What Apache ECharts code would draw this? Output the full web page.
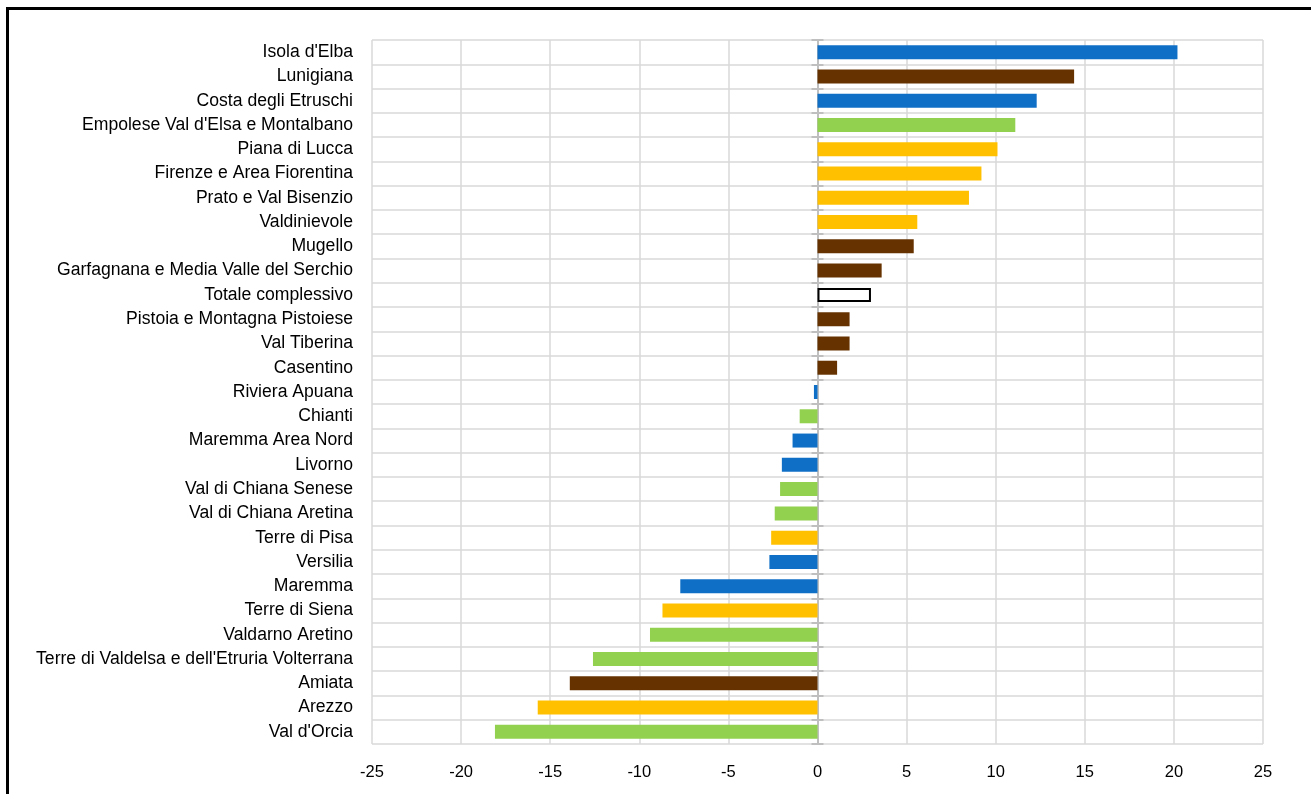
<!DOCTYPE html>
<html>
<head>
<meta charset="utf-8">
<script src="https://cdn.jsdelivr.net/npm/echarts@6/dist/echarts.min.js"></script>
<style>
  html, body { margin: 0; padding: 0; background: #ffffff; }
  #chart { width: 1311px; height: 794px; }
</style>
</head>
<body>
<div id="chart"></div>
<script>
// Tourist areas, top to bottom
const areas = [
  "Isola d'Elba", "Lunigiana", "Costa degli Etruschi", "Empolese Val d'Elsa e Montalbano",
  "Piana di Lucca", "Firenze e Area Fiorentina", "Prato e Val Bisenzio", "Valdinievole",
  "Mugello", "Garfagnana e Media Valle del Serchio", "Totale complessivo",
  "Pistoia e Montagna Pistoiese", "Val Tiberina", "Casentino", "Riviera Apuana",
  "Chianti", "Maremma Area Nord", "Livorno", "Val di Chiana Senese", "Val di Chiana Aretina",
  "Terre di Pisa", "Versilia", "Maremma", "Terre di Siena", "Valdarno Aretino",
  "Terre di Valdelsa e dell'Etruria Volterrana", "Amiata", "Arezzo", "Val d'Orcia"
];

// Percentage change per area
const changes = [
  20.2, 14.4, 12.3, 11.1,
  10.1, 9.2, 8.5, 5.6,
  5.4, 3.6, 3.0,
  1.8, 1.8, 1.1, -0.2,
  -1.0, -1.4, -2.0, -2.1, -2.4,
  -2.6, -2.7, -7.7, -8.7, -9.4,
  -12.6, -13.9, -15.7, -18.1
];

// Type of destination for each area
const kinds = [
  "costa", "montagna", "costa", "campagna",
  "citta", "citta", "citta", "citta",
  "montagna", "montagna", "totale",
  "montagna", "montagna", "montagna", "costa",
  "campagna", "costa", "costa", "campagna", "campagna",
  "citta", "costa", "costa", "citta", "campagna",
  "campagna", "montagna", "citta", "campagna"
];

// Axis range and step
const xMin = -25, xMax = 25, xStep = 5;

const kindStyle = {
  costa:    { color: '#0F6FC6' },
  montagna: { color: '#663300' },
  campagna: { color: '#92D050' },
  citta:    { color: '#FFC000' },
  totale:   { color: '#FFFFFF', borderColor: '#000000', borderWidth: 2 }
};

const FONT = "'Liberation Sans', Arial, sans-serif";

const W = 1311;
const gridLeft = 372, gridRight = 48;
const plotWidth = W - gridLeft - gridRight;
// horizontal pixel of the value 0 inside the plot
const zeroX = gridLeft + (0 - xMin) / (xMax - xMin) * plotWidth;
const tickHalf = 6;

const chart = echarts.init(document.getElementById('chart'), null, { renderer: 'canvas' });

const gridLine = { show: true, interval: 0, lineStyle: { color: '#D9D9D9', width: 1.5 } };
const axisGray = '#BFBFBF';

chart.setOption({
  backgroundColor: '#ffffff',
  animation: false,
  graphic: [{
    type: 'rect',
    shape: { x: 7.5, y: 8.5, width: 1400, height: 900 },
    style: { fill: 'none', stroke: '#000000', lineWidth: 3 },
    silent: true
  }],
  grid: { left: gridLeft, right: gridRight, top: 40, bottom: 50, containLabel: false },
  xAxis: {
    type: 'value',
    min: xMin, max: xMax, interval: xStep,
    axisLine: { show: false },
    axisTick: { show: false },
    splitLine: gridLine,
    axisLabel: {
      color: '#000000', fontFamily: FONT, fontSize: 16.5, margin: 20
    }
  },
  yAxis: [
    {
      // category labels at the left edge, with the row separators
      type: 'category', data: areas, inverse: true,
      position: 'left',
      axisLine: { show: false, onZero: false },
      axisTick: { show: false },
      splitLine: gridLine,
      axisLabel: {
        interval: 0,
        color: '#000000', fontFamily: FONT, fontSize: 17.6, margin: 19
      }
    },
    {
      // zero line
      type: 'category', data: areas, inverse: true,
      position: 'left',
      axisLine: { show: true, onZero: true, lineStyle: { color: axisGray, width: 2 } },
      axisTick: { show: false },
      axisLabel: { show: false },
      splitLine: { show: false }
    },
    {
      // short ticks crossing the zero line at every row boundary
      type: 'category', data: areas, inverse: true,
      position: 'left',
      offset: gridLeft - (zeroX + tickHalf),
      axisLine: { show: false, onZero: false },
      axisTick: { show: true, interval: 0, length: tickHalf * 2, lineStyle: { color: axisGray, width: 2 } },
      axisLabel: { show: false },
      splitLine: { show: false }
    }
  ],
  series: [{
    type: 'bar',
    yAxisIndex: 0,
    barWidth: 14,
    data: changes.map((v, i) => ({ value: v, itemStyle: kindStyle[kinds[i]] })),
    z: 3
  }]
});
</script>
</body>
</html>
